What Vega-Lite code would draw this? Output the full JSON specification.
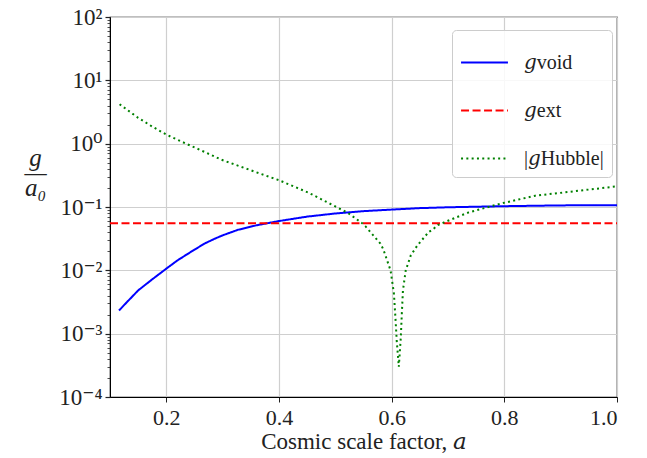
{
  "$schema": "https://vega.github.io/schema/vega-lite/v6.json",
  "width": 507,
  "height": 380,
  "autosize": "none",
  "padding": {"left": 110, "top": 17, "right": 30, "bottom": 61},
  "background": "white",
  "config": {
    "font": "Liberation Serif, DejaVu Serif",
    "view": {"stroke": "#000000", "strokeWidth": 1.2},
    "axis": {"labelFont": "Liberation Serif, DejaVu Serif", "titleFont": "Liberation Serif, DejaVu Serif", "labelColor": "#222", "titleColor": "#222", "domainColor": "#000", "tickColor": "#222"}
  },
  "datasets": {
    "curves": [
      {"a": 0.116, "g": 0.00232, "series": "gvoid"},
      {"a": 0.13, "g": 0.00315, "series": "gvoid"},
      {"a": 0.14, "g": 0.00389, "series": "gvoid"},
      {"a": 0.15, "g": 0.00482, "series": "gvoid"},
      {"a": 0.175, "g": 0.00721, "series": "gvoid"},
      {"a": 0.2, "g": 0.01064, "series": "gvoid"},
      {"a": 0.22, "g": 0.0144, "series": "gvoid"},
      {"a": 0.235, "g": 0.0175, "series": "gvoid"},
      {"a": 0.25, "g": 0.0212, "series": "gvoid"},
      {"a": 0.268, "g": 0.0265, "series": "gvoid"},
      {"a": 0.285, "g": 0.0313, "series": "gvoid"},
      {"a": 0.3, "g": 0.0357, "series": "gvoid"},
      {"a": 0.327, "g": 0.0436, "series": "gvoid"},
      {"a": 0.36, "g": 0.0514, "series": "gvoid"},
      {"a": 0.4, "g": 0.06, "series": "gvoid"},
      {"a": 0.45, "g": 0.0705, "series": "gvoid"},
      {"a": 0.5, "g": 0.079, "series": "gvoid"},
      {"a": 0.55, "g": 0.086, "series": "gvoid"},
      {"a": 0.6, "g": 0.091, "series": "gvoid"},
      {"a": 0.65, "g": 0.096, "series": "gvoid"},
      {"a": 0.7, "g": 0.099, "series": "gvoid"},
      {"a": 0.75, "g": 0.101, "series": "gvoid"},
      {"a": 0.8, "g": 0.103, "series": "gvoid"},
      {"a": 0.9, "g": 0.106, "series": "gvoid"},
      {"a": 1.0, "g": 0.107, "series": "gvoid"},
      {"a": 0.1, "g": 0.0555, "series": "gext"},
      {"a": 1.0, "g": 0.0555, "series": "gext"},
      {"a": 0.117, "g": 4.2, "series": "gHubble"},
      {"a": 0.13, "g": 3.45, "series": "gHubble"},
      {"a": 0.15, "g": 2.56, "series": "gHubble"},
      {"a": 0.175, "g": 1.86, "series": "gHubble"},
      {"a": 0.2, "g": 1.39, "series": "gHubble"},
      {"a": 0.235, "g": 1.0, "series": "gHubble"},
      {"a": 0.265, "g": 0.76, "series": "gHubble"},
      {"a": 0.298, "g": 0.557, "series": "gHubble"},
      {"a": 0.35, "g": 0.38, "series": "gHubble"},
      {"a": 0.386, "g": 0.292, "series": "gHubble"},
      {"a": 0.4, "g": 0.265, "series": "gHubble"},
      {"a": 0.452, "g": 0.169, "series": "gHubble"},
      {"a": 0.5, "g": 0.102, "series": "gHubble"},
      {"a": 0.522, "g": 0.081, "series": "gHubble"},
      {"a": 0.547, "g": 0.056, "series": "gHubble"},
      {"a": 0.554, "g": 0.049, "series": "gHubble"},
      {"a": 0.58, "g": 0.0265, "series": "gHubble"},
      {"a": 0.585, "g": 0.0216, "series": "gHubble"},
      {"a": 0.598, "g": 0.01, "series": "gHubble"},
      {"a": 0.604, "g": 0.0043, "series": "gHubble"},
      {"a": 0.607, "g": 0.0016, "series": "gHubble"},
      {"a": 0.609, "g": 0.00077, "series": "gHubble"},
      {"a": 0.6127, "g": 0.0003, "series": "gHubble"},
      {"a": 0.6162, "g": 0.00087, "series": "gHubble"},
      {"a": 0.618, "g": 0.00205, "series": "gHubble"},
      {"a": 0.62, "g": 0.0048, "series": "gHubble"},
      {"a": 0.625, "g": 0.01, "series": "gHubble"},
      {"a": 0.634, "g": 0.0173, "series": "gHubble"},
      {"a": 0.646, "g": 0.025, "series": "gHubble"},
      {"a": 0.666, "g": 0.0405, "series": "gHubble"},
      {"a": 0.673, "g": 0.0442, "series": "gHubble"},
      {"a": 0.682, "g": 0.0518, "series": "gHubble"},
      {"a": 0.7, "g": 0.0607, "series": "gHubble"},
      {"a": 0.737, "g": 0.0823, "series": "gHubble"},
      {"a": 0.795, "g": 0.114, "series": "gHubble"},
      {"a": 0.855, "g": 0.151, "series": "gHubble"},
      {"a": 0.914, "g": 0.173, "series": "gHubble"},
      {"a": 1.0, "g": 0.212, "series": "gHubble"}
    ]
  },
  "encoding": {
    "x": {
      "type": "quantitative",
      "scale": {"domain": [0.1, 1.0], "nice": false, "zero": false},
      "axis": {
        "values": [0.2, 0.4, 0.6, 0.8, 1.0],
        "format": ".1f",
        "title": "Cosmic scale factor, 𝑎",
        "titleFontSize": 23,
        "titleFontWeight": "normal",
        "titlePadding": 2,
        "labelFontSize": 22,
        "labelPadding": 5,
        "tickSize": 5,
        "grid": true,
        "gridColor": "#cfcfcf",
        "gridWidth": 1.2
      }
    },
    "y": {
      "type": "quantitative",
      "scale": {"type": "log", "domain": [0.0001, 100], "nice": false},
      "axis": {
        "values": [0.0001, 0.0002, 0.0003, 0.0004, 0.0005, 0.0006, 0.0007, 0.0008, 0.0009,
                   0.001, 0.002, 0.003, 0.004, 0.005, 0.006, 0.007, 0.008, 0.009,
                   0.01, 0.02, 0.03, 0.04, 0.05, 0.06, 0.07, 0.08, 0.09,
                   0.1, 0.2, 0.3, 0.4, 0.5, 0.6, 0.7, 0.8, 0.9,
                   1, 2, 3, 4, 5, 6, 7, 8, 9,
                   10, 20, 30, 40, 50, 60, 70, 80, 90, 100],
        "labelExpr": "abs(log(datum.value)/LN10 - round(log(datum.value)/LN10)) > 0.000001 ? '' : (round(log(datum.value)/LN10) == 2 ? '10²' : round(log(datum.value)/LN10) == 1 ? '10¹' : round(log(datum.value)/LN10) == 0 ? '10⁰' : round(log(datum.value)/LN10) == -1 ? '10⁻¹' : round(log(datum.value)/LN10) == -2 ? '10⁻²' : round(log(datum.value)/LN10) == -3 ? '10⁻³' : '10⁻⁴')",
        "labelFontSize": 23,
        "labelPadding": 3,
        "labelOverlap": false,
        "labelBound": false,
        "labelFlush": false,
        "tickSize": {"condition": {"test": "abs(log(datum.value)/LN10 - round(log(datum.value)/LN10)) < 0.000001", "value": 5}, "value": 3},
        "tickWidth": {"condition": {"test": "abs(log(datum.value)/LN10 - round(log(datum.value)/LN10)) < 0.000001", "value": 1.2}, "value": 0.8},
        "grid": true,
        "gridColor": "#cfcfcf",
        "gridWidth": 1.2,
        "gridOpacity": {"condition": {"test": "abs(log(datum.value)/LN10 - round(log(datum.value)/LN10)) < 0.000001", "value": 1}, "value": 0},
        "title": ["g", "—", "a₀"],
        "titleAngle": 0,
        "titleFontSize": 25,
        "titleFontStyle": "italic",
        "titleFontWeight": "normal",
        "titleLineHeight": 15,
        "titleAlign": "center",
        "titleBaseline": "middle",
        "titleX": -75,
        "titleY": 140
      }
    }
  },
  "layer": [
    {
      "mark": {"type": "rule", "color": "#aaaaaa", "strokeWidth": 1.6},
      "encoding": {"y": {"datum": 10}}
    },
    {
      "mark": {"type": "rule", "color": "#808080", "strokeWidth": 2.4},
      "encoding": {"y": {"datum": 1}}
    },
    {
      "data": {"name": "curves"},
      "mark": {"type": "line", "strokeWidth": 2, "clip": true},
      "encoding": {
        "x": {"field": "a", "type": "quantitative"},
        "y": {"field": "g", "type": "quantitative"},
        "color": {
          "field": "series",
          "type": "nominal",
          "scale": {"domain": ["gvoid", "gext", "gHubble"], "range": ["#0000ff", "#ff0000", "#008000"]},
          "legend": {
            "title": null,
            "orient": "none",
            "legendX": 342,
            "legendY": 13,
            "labelExpr": "datum.value == 'gvoid' ? '𝑔void' : datum.value == 'gext' ? '𝑔ext' : '|𝑔Hubble|'",
            "labelFont": "Liberation Serif, DejaVu Serif",
            "labelFontSize": 20,
            "labelColor": "#222",
            "labelOffset": 15,
            "symbolType": "stroke",
            "symbolSize": 2200,
            "symbolStrokeWidth": 2,
            "rowPadding": 13,
            "padding": 8,
            "strokeColor": "#cccccc",
            "cornerRadius": 4,
            "fillColor": "rgba(255,255,255,0.85)"
          }
        },
        "strokeDash": {
          "field": "series",
          "type": "nominal",
          "scale": {"domain": ["gvoid", "gext", "gHubble"], "range": [[1, 0], [8, 3.5], [2, 3.3]]},
          "legend": null
        },
        "order": {"field": "a", "type": "quantitative"}
      }
    }
  ]
}
